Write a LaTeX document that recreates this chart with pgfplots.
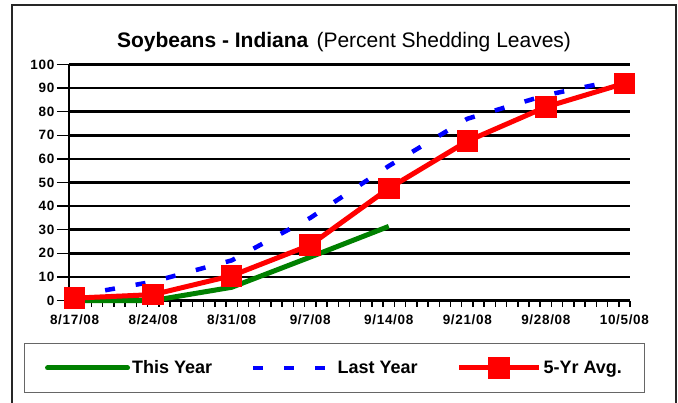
\documentclass[border=0pt]{standalone}
\usepackage{fontspec}
\setmainfont{Liberation Sans}
\newfontfamily\tickfont[LetterSpace=5]{Liberation Sans}
\newfontfamily\legfont{Liberation Sans}
\usepackage{pgfplots}
\pgfplotsset{compat=1.18}
\definecolor{xgreen}{RGB}{0,128,0}
\definecolor{xblue}{RGB}{0,0,255}
\definecolor{xred}{RGB}{255,0,0}
\pgfplotsset{
  legroundline/.style={legend image code/.code={\draw[##1, line cap=round] (0bp,0bp) -- (80bp,0bp);}},
  legline/.style={legend image code/.code={\draw[##1] (0bp,0bp) -- (80bp,0bp);}},
  legmark/.style={legend image code/.code={\draw[##1, mark repeat=2, mark phase=2] plot coordinates {(0bp,0bp) (40bp,0bp) (80bp,0bp)};}},
}
\begin{document}
\begin{tikzpicture}
\useasboundingbox (0bp,0bp) rectangle (678bp,403bp);
\draw[line width=1.2bp, black!85] (12bp,-5bp) -- (12bp,398bp) -- (676bp,398bp) -- (676bp,-5bp);
\draw[line width=1bp, black!60] (24bp,10bp) rectangle (644bp,59bp);
\node[anchor=base, inner sep=0pt] at (344bp,355bp) {\fontsize{21bp}{23bp}\selectfont\textbf{Soybeans - Indiana}\hspace{8bp}(Percent Shedding Leaves)};
\begin{axis}[
  at={(69bp,102.5bp)}, anchor=south west,
  scale only axis, width=561bp, height=236bp,
  xmin=-0.5, xmax=49.5, ymin=0, ymax=100,
  axis lines*=left,
  axis line style={-, line width=2.5bp, black},
  xtick={0,7,14,21,28,35,42,49},
  xticklabels={8/17/08,8/24/08,8/31/08,9/7/08,9/14/08,9/21/08,9/28/08,10/5/08},
  minor xtick={-0.5,0.5,...,49.5},
  ytick={0,10,...,90},
  extra y ticks={100},
  extra y tick style={grid style={gray!25, line width=1bp}},
  ymajorgrids,
  major grid style={black, line width=2.5bp},
  tick align=outside,
  major tick length=12bp,
  minor tick length=6bp,
  tick style={black, line width=1.5bp},
  major x tick style={draw=none},
  /pgf/number format/assume math mode=true,
  ticklabel style={font=\tickfont\fontsize{13.5bp}{15bp}\selectfont\bfseries},
  yticklabel style={inner sep=2.5bp},
  xticklabel style={inner sep=2bp},
  legend style={at={(0.4733,-0.286)}, anchor=center, draw=none, fill=none,
    legend columns=3, font=\legfont\fontsize{18bp}{20bp}\selectfont\bfseries,
    /tikz/every even column/.append style={column sep=37bp},
    nodes={inner sep=2bp}},
  clip=false,
]
\addplot[color=xgreen, line width=5bp, legroundline]
  table {
x y
0 0
7 0
14 5.6
21 18.4
28 31.4
};
\addlegendentry{This Year}
\addplot[color=xblue, line width=4.5bp, dash pattern=on 10bp off 21bp, legline]
  table {
x y
0 2
7 8
14 17
21 35
28 57
35 77
42 87
49 94
};
\addlegendentry{Last Year}
\addplot[color=xred, line width=5bp, mark=square*, mark size=8.3bp, mark options={solid}, legmark]
  table {
x y
0 1
7 2.5
14 10.5
21 23.5
28 47.5
35 67.5
42 82
49 92
};
\addlegendentry{5-Yr Avg.}
\end{axis}
\end{tikzpicture}
\end{document}
